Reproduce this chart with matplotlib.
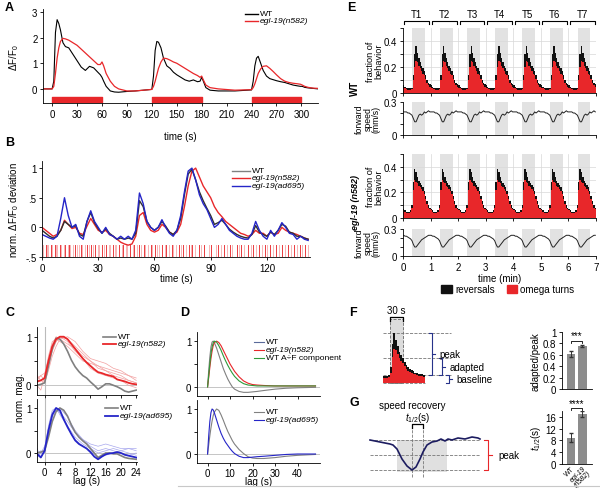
import numpy as np
import matplotlib
matplotlib.use('Agg')
import matplotlib.pyplot as plt
import matplotlib.transforms as mtrans
from matplotlib.lines import Line2D
from matplotlib.patches import Rectangle

plt.rcParams['font.family'] = ['Liberation Sans', 'DejaVu Sans']
plt.rcParams['mathtext.fontset'] = 'custom'
plt.rcParams['mathtext.rm'] = 'Liberation Sans'
plt.rcParams['mathtext.it'] = 'Liberation Sans:italic'
plt.rcParams['font.size'] = 7
plt.rcParams['axes.linewidth'] = 0.6
for k in ['xtick', 'ytick']:
    plt.rcParams[k + '.major.width'] = 0.6
    plt.rcParams[k + '.major.size'] = 2.5
    plt.rcParams[k + '.major.pad'] = 1.5
    plt.rcParams[k + '.labelsize'] = 7

RED = '#e8272a'
BLUE = '#2525c8'
GRAY = '#808080'
NAVY = '#27338a'

# ---------------- data ----------------
# A: calcium response to repeated stimulation
a_time = [-10, 0, 2, 4, 6, 8, 10, 13, 16, 20,
          25, 30, 35, 40, 45, 50, 55, 58, 60, 62,
          65, 70, 75, 80, 90, 100, 110, 120, 122, 124,
          126, 128, 131, 134, 138, 142, 146, 150, 155, 160,
          165, 170, 175, 178, 180, 182, 185, 190, 200, 220,
          240, 242, 244, 246, 248, 251, 254, 258, 262, 266,
          270, 275, 280, 285, 290, 295, 299, 301, 304, 308,
          314, 320]
a_wt = [0, 0, 0.3, 2.2, 2.7, 2.55, 2.3, 1.8, 1.65, 1.6,
        1.35, 1.1, 0.85, 0.72, 0.88, 0.82, 0.65, 0.55, 0.45, 0.3,
        0.1, -0.08, -0.12, -0.13, -0.1, -0.08, -0.05, -0.02, 0.5, 1.5,
        1.85, 1.82, 1.6, 1.2, 0.9, 0.8, 0.65, 0.55, 0.45, 0.35,
        0.3, 0.35, 0.28, 0.3, 0.45, 0.3, 0.05, -0.05, -0.08, -0.08,
        -0.04, 0.3, 0.9, 1.2, 1.27, 1.0, 0.72, 0.5, 0.4, 0.36,
        0.32, 0.28, 0.25, 0.2, 0.15, 0.12, 0.1, 0.1, 0.06, 0.04,
        0.02, 0.0]
a_n582 = [0, 0, 0.1, 0.6, 1.2, 1.6, 1.85, 1.97, 1.95, 1.9,
          1.8, 1.7, 1.55, 1.4, 1.25, 1.1, 0.95, 0.95, 1.05, 0.9,
          0.6, 0.3, 0.1, 0.0, -0.08, -0.08, -0.05, -0.02, 0.1, 0.3,
          0.55, 0.8, 1.05, 1.2, 1.18, 1.12, 1.05, 1.0, 0.9, 0.8,
          0.7, 0.6, 0.52, 0.45, 0.5, 0.35, 0.15, 0.05, 0.0, -0.05,
          -0.03, 0.05, 0.2, 0.4, 0.6, 0.78, 0.88, 0.9, 0.8, 0.68,
          0.55, 0.4, 0.3, 0.25, 0.22, 0.2, 0.18, 0.15, 0.1, 0.06,
          0.03, 0.02]
a_stim_start = [0, 120, 240]
a_stim_len = 60

# B: normalized deviation traces and stimulus raster
b_time = list(range(0, 143, 2))
b_wt = [-0.05, -0.1, -0.15, -0.18, -0.15, -0.05, 0.1, 0.05, 0.0, 0.03,
        -0.12, -0.15, 0.1, 0.25, 0.08, -0.02, -0.1, -0.02, -0.1, -0.15,
        -0.2, -0.18, -0.2, -0.18, -0.2, -0.1, 0.45, 0.35, 0.1, 0.0,
        -0.05, 0.0, 0.1, 0.02, -0.08, -0.12, -0.05, 0.15, 0.55, 0.9,
        0.98, 0.8, 0.6, 0.45, 0.32, 0.2, 0.05, 0.08, 0.12, 0.05,
        -0.03, -0.08, -0.12, -0.15, -0.17, -0.18, -0.12, 0.03, -0.08, -0.12,
        -0.15, -0.08, -0.12, -0.05, 0.05, 0.02, -0.08, -0.1, -0.15, -0.15,
        -0.18, -0.2]
b_n582 = [0.0, -0.05, -0.1, -0.15, -0.12, -0.05, 0.12, 0.05, -0.02, 0.0,
          -0.1, -0.12, 0.02, 0.15, 0.05, -0.05, -0.08, -0.05, -0.12, -0.15,
          -0.2, -0.25, -0.28, -0.3, -0.28, -0.15, 0.2, 0.25, 0.05, -0.05,
          -0.08, -0.05, 0.05, 0.0, -0.08, -0.12, -0.08, 0.05, 0.35, 0.7,
          0.95, 1.0, 0.85, 0.7, 0.6, 0.5, 0.35, 0.25, 0.18, 0.1,
          0.05, 0.0, -0.05, -0.1, -0.12, -0.15, -0.12, -0.05, -0.1, -0.1,
          -0.15, -0.08, -0.12, -0.1, 0.0, -0.05, -0.08, -0.1, -0.12, -0.15,
          -0.18, -0.2]
b_ad695 = [-0.12, -0.15, -0.18, -0.2, -0.15, 0.15, 0.5, 0.2, 0.0, 0.05,
           -0.15, -0.2, 0.1, 0.28, 0.1, 0.0, -0.1, 0.0, -0.12, -0.15,
           -0.2, -0.15, -0.2, -0.15, -0.2, -0.05, 0.58, 0.4, 0.1, 0.0,
           -0.05, 0.0, 0.13, 0.0, -0.1, -0.15, -0.05, 0.2, 0.6, 0.95,
           1.0, 0.8, 0.55, 0.4, 0.3, 0.15, 0.0, 0.05, 0.15, 0.05,
           -0.05, -0.1, -0.15, -0.18, -0.2, -0.2, -0.1, 0.1, -0.05, -0.15,
           -0.2, -0.05, -0.15, -0.05, 0.08, 0.0, -0.1, -0.12, -0.2, -0.15,
           -0.2, -0.22]
b_spikes_strong = [1.9, 4.9, 6.8, 9.6, 12.1, 14.3, 17.8, 20.6, 24.1, 26.3,
                   28.4, 31.9, 34.0, 37.7, 41.0, 43.3, 47.1, 49.0, 51.5, 54.2,
                   57.9, 60.3, 64.0, 66.2, 69.1, 72.9, 75.1, 78.2, 80.3, 83.6,
                   86.7, 90.4, 94.1, 97.0, 100.2, 103.8, 106.4, 109.7, 112.6, 115.9,
                   118.8, 121.6, 125.0, 128.1, 131.2, 134.5, 137.4, 140.5]
b_spikes_weak = [0.8, 2.6, 3.4, 5.5, 7.3, 8.1, 10.2, 11.5, 13.7, 15.0,
                 16.4, 18.5, 19.9, 21.3, 22.8, 24.9, 27.0, 29.8, 30.5, 33.2,
                 35.6, 36.3, 38.9, 39.6, 42.5, 44.8, 45.6, 48.4, 50.7, 52.9,
                 55.0, 56.6, 58.8, 61.6, 62.4, 65.5, 67.8, 70.0, 71.4, 74.3,
                 76.8, 79.5, 81.9, 85.0, 88.9, 92.8, 95.7, 98.6, 101.5, 105.1,
                 108.0, 111.3, 114.0, 117.2, 120.3, 123.4, 126.7, 129.5, 132.8, 135.9,
                 138.8, 141.9]

# C: cross-correlation magnitude vs lag
c_lag = list(range(-2, 25))
c_wt_top = [0.0, 0.02, 0.05, 0.4, 0.75, 0.97, 0.95, 0.85, 0.7, 0.52,
            0.38, 0.28, 0.2, 0.15, 0.07, 0.0, -0.08, -0.03, 0.03, 0.03,
            0.0, -0.03, -0.07, -0.12, -0.14, -0.12, -0.1]
c_n582 = [0.08, 0.1, 0.15, 0.5, 0.8, 0.95, 1.0, 1.0, 0.95, 0.85,
          0.75, 0.65, 0.55, 0.47, 0.4, 0.33, 0.27, 0.25, 0.22, 0.2,
          0.18, 0.12, 0.1, 0.08, 0.05, 0.03, 0.02]
c_wt_bot = [0.0, 0.02, 0.05, 0.35, 0.7, 0.92, 1.0, 0.95, 0.82, 0.62,
            0.46, 0.35, 0.27, 0.2, 0.1, 0.0, -0.1, -0.05, 0.0, 0.0,
            -0.02, -0.02, -0.06, -0.1, -0.12, -0.13, -0.14]
c_ad695 = [-0.02, -0.1, 0.05, 0.5, 0.85, 1.0, 0.95, 0.75, 0.58, 0.42,
           0.28, 0.2, 0.15, 0.1, 0.02, -0.08, -0.14, -0.08, -0.03, -0.01,
           0.0, 0.02, 0.0, -0.04, -0.06, -0.08, -0.1]
c_lag_ind = [-2, -1, 0, 1, 2, 3, 4, 6, 8, 10, 12, 14, 16, 18, 20, 22, 24]
c_n582_ind = [
    [0.05, 0.1, 0.15, 0.55, 0.85, 1.0, 0.95, 0.85, 0.75, 0.6, 0.5, 0.4, 0.35, 0.3, 0.25, 0.2, 0.15],
    [0.15, 0.2, 0.1, 0.4, 0.7, 0.9, 1.0, 0.95, 0.8, 0.65, 0.5, 0.35, 0.3, 0.25, 0.2, 0.1, 0.05],
    [0.0, -0.1, 0.2, 0.6, 0.9, 0.95, 0.9, 0.8, 0.65, 0.5, 0.45, 0.4, 0.3, 0.2, 0.15, 0.1, 0.05],
    [0.2, 0.1, 0.05, 0.3, 0.6, 0.8, 0.95, 1.0, 0.9, 0.7, 0.55, 0.5, 0.45, 0.35, 0.3, 0.2, 0.1],
    [0.1, 0.2, 0.25, 0.5, 0.75, 0.9, 1.0, 0.9, 0.7, 0.55, 0.35, 0.25, 0.2, 0.15, 0.1, 0.0, -0.05],
]
c_ad695_ind = [
    [-0.05, 0.0, 0.1, 0.6, 0.95, 1.0, 0.85, 0.6, 0.35, 0.2, 0.1, 0.0, 0.05, 0.1, 0.05, 0.1, 0.1],
    [0.1, -0.1, 0.05, 0.4, 0.8, 0.95, 1.0, 0.8, 0.5, 0.3, 0.15, 0.05, 0.1, 0.05, 0.0, -0.05, 0.0],
    [0.0, 0.05, 0.0, 0.55, 0.9, 1.0, 0.9, 0.55, 0.3, 0.15, 0.05, -0.1, -0.05, 0.0, 0.05, 0.0, -0.05],
    [-0.1, 0.0, 0.15, 0.45, 0.85, 0.95, 0.9, 0.7, 0.45, 0.3, 0.2, 0.15, 0.2, 0.15, 0.1, 0.1, 0.05],
]

# D: fitted kernels
d_lag = [0, 0.5, 1, 1.5, 2, 2.5, 3, 4, 5, 6, 7, 8, 9, 10, 11, 12, 14, 16, 18, 20, 22, 25, 30, 35, 40, 48]
d_wt_top = [0, 0.35, 0.65, 0.87, 0.98, 1.0, 0.97, 0.85, 0.70, 0.55, 0.40, 0.28, 0.17, 0.08, 0.0, -0.05,
            -0.10, -0.12, -0.12, -0.11, -0.10, -0.08, -0.05, -0.03, -0.02, -0.01]
d_n582 = [0, 0.2, 0.42, 0.62, 0.78, 0.9, 0.97, 1.0, 0.97, 0.9, 0.8, 0.7, 0.6, 0.5, 0.42, 0.34,
          0.22, 0.13, 0.08, 0.05, 0.04, 0.03, 0.02, 0.02, 0.02, 0.02]
d_af = [0, 0.25, 0.5, 0.72, 0.87, 0.96, 1.0, 0.98, 0.9, 0.8, 0.68, 0.57, 0.47, 0.38, 0.3, 0.23,
        0.13, 0.07, 0.04, 0.03, 0.02, 0.02, 0.02, 0.02, 0.02, 0.02]
d_wt_bot = [0, 0.2, 0.4, 0.58, 0.73, 0.85, 0.93, 1.0, 0.97, 0.87, 0.75, 0.62, 0.5, 0.4, 0.3, 0.22,
            0.1, 0.01, -0.06, -0.09, -0.1, -0.1, -0.08, -0.05, -0.03, -0.01]
d_ad695 = [0, 0.4, 0.72, 0.92, 1.0, 0.98, 0.92, 0.76, 0.6, 0.46, 0.35, 0.26, 0.19, 0.12, 0.06, 0.01,
           -0.05, -0.08, -0.08, -0.07, -0.06, -0.05, -0.03, -0.01, 0, 0]

# E: behavior over seven one-minute trials (one-trial profile, 3 s bins)
e_trials = ['T1', 'T2', 'T3', 'T4', 'T5', 'T6', 'T7']
e_stim = (0.33, 0.8)
e_wt_total = [0.06, 0.05, 0.04, 0.035, 0.035, 0.035, 0.04, 0.14, 0.30, 0.36,
              0.31, 0.27, 0.24, 0.21, 0.19, 0.17, 0.14, 0.10, 0.08, 0.07]
e_wt_omega = [0.04, 0.035, 0.03, 0.025, 0.025, 0.025, 0.03, 0.10, 0.20, 0.25,
              0.24, 0.21, 0.19, 0.17, 0.15, 0.14, 0.11, 0.08, 0.06, 0.05]
e_mut_total = [0.07, 0.06, 0.05, 0.05, 0.05, 0.06, 0.10, 0.28, 0.38, 0.36,
               0.32, 0.29, 0.27, 0.26, 0.24, 0.21, 0.17, 0.13, 0.10, 0.08]
e_mut_omega = [0.06, 0.05, 0.04, 0.04, 0.04, 0.05, 0.08, 0.22, 0.30, 0.28,
               0.27, 0.25, 0.24, 0.23, 0.21, 0.19, 0.15, 0.11, 0.08, 0.07]
e_wt_speed = [0.21, 0.21, 0.21, 0.20, 0.20, 0.19, 0.18, 0.15, 0.12, 0.12,
              0.15, 0.18, 0.19, 0.18, 0.19, 0.21, 0.20, 0.21, 0.22, 0.21]
e_mut_speed = [0.23, 0.22, 0.22, 0.21, 0.20, 0.19, 0.17, 0.13, 0.10, 0.10,
               0.12, 0.14, 0.16, 0.18, 0.19, 0.20, 0.21, 0.22, 0.23, 0.23]

# F schematic (4 s bins) and summary
f_bin_t = list(range(-16, 80, 4))
f_total = [0.05, 0.055, 0.05, 0.06, 0.12, 0.30, 0.38, 0.33, 0.28, 0.24, 0.21, 0.19,
           0.16, 0.14, 0.12, 0.11, 0.10, 0.09, 0.08, 0.075, 0.07, 0.065, 0.065, 0.06]
f_omega = [0.035, 0.04, 0.035, 0.045, 0.08, 0.2, 0.26, 0.25, 0.22, 0.19, 0.17, 0.15,
           0.13, 0.11, 0.095, 0.085, 0.08, 0.07, 0.065, 0.06, 0.055, 0.05, 0.05, 0.045]
f_levels = {'peak': 0.38, 'adapted': 0.19, 'baseline': 0.06}
f_groups = ['WT', 'egl-19\n(n582)']
f_ratio = [0.62, 0.75]
f_ratio_err = [0.05, 0.02]

# G schematic and summary
g_t = [-42, -32, -22, -19, -15, -10, -5, 0, 4, 8, 11, 15, 20, 25, 29, 33, 36, 40, 46, 53, 60, 66, 68]
g_speed = [0.22, 0.212, 0.204, 0.2, 0.184, 0.144, 0.116, 0.1, 0.112, 0.144, 0.172, 0.2, 0.212,
           0.216, 0.224, 0.216, 0.224, 0.22, 0.228, 0.224, 0.232, 0.228, 0.224]
g_thalf = [9.0, 17.0]
g_thalf_err = [1.6, 1.0]

# ---------------- figure ----------------
W, H = 600, 489
fig = plt.figure(figsize=(6, 4.89), dpi=100)


def px_axes(l, t, r, b):
    return fig.add_axes([l / W, 1 - b / H, (r - l) / W, (b - t) / H])


def ftext(x, y, s, **kw):
    kw.setdefault('fontsize', 7)
    return fig.text(x / W, 1 - y / H, s, **kw)


def leg_line(x0, x1, y, color, label, lw=1.0, **kw):
    fig.add_artist(Line2D([x0 / W, x1 / W], [1 - y / H] * 2, color=color, lw=lw))
    kw.setdefault('fontsize', 6.1)
    ftext(x1 + 2, y, label, va='center', **kw)


def clean(ax):
    ax.spines['top'].set_visible(False)
    ax.spines['right'].set_visible(False)


for lab, x, y in [('A', 5, 8), ('B', 5, 143), ('C', 5, 313), ('D', 180, 313),
                  ('E', 347, 8), ('F', 349, 313), ('G', 349, 403)]:
    ftext(x, y, lab, fontsize=9, fontweight='bold', va='center')

# ---- A
axA = px_axes(43, 10.4, 318, 104)
clean(axA)
axA.plot(a_time, a_wt, color='black', lw=0.8)
axA.plot(a_time, a_n582, color=RED, lw=0.9)
axA.broken_barh([(s, a_stim_len) for s in a_stim_start], (-0.5, 0.19), color=RED)
axA.set_xlim(-11, 320)
axA.set_ylim(-0.55, 3.1)
axA.set_xticks(range(0, 301, 30))
axA.set_yticks([0, 1, 2, 3])
axA.set_xlabel('time (s)', labelpad=9)
axA.set_ylabel('ΔF/F$_0$', labelpad=8)
leg_line(245, 258, 14.5, 'black', 'WT')
leg_line(245, 258, 21.5, RED, 'egl-19(n582)', fontstyle='italic')

# ---- B
axB = px_axes(42, 162, 310, 258)
clean(axB)
for s in b_spikes_weak:
    axB.plot([s, s], [-0.5, -0.3], color=RED, alpha=0.35, lw=0.7)
for s in b_spikes_strong:
    axB.plot([s, s], [-0.5, -0.3], color=RED, alpha=0.9, lw=0.7)
axB.plot(b_time, b_n582, color=RED, lw=1.0)
axB.plot(b_time, b_wt, color='#303030', lw=1.0)
axB.plot(b_time, b_ad695, color=BLUE, lw=1.0)
axB.set_xlim(0, 143)
axB.set_ylim(-0.5, 1.12)
axB.set_xticks([0, 30, 60, 90, 120])
axB.set_yticks([-0.5, 0, 0.5, 1])
axB.set_yticklabels(['-.5', '0', '.5', '1'])
axB.set_xlabel('time (s)', labelpad=0)
axB.set_ylabel('norm. ΔF/F$_0$ deviation', labelpad=3)
leg_line(232, 250, 171.5, GRAY, 'WT')
leg_line(232, 250, 179, RED, 'egl-19(n582)', fontstyle='italic')
leg_line(232, 250, 186.5, BLUE, 'egl-19(ad695)', fontstyle='italic')

# ---- C
axC1 = px_axes(37, 328, 137, 396)
axC2 = px_axes(37, 400, 137, 463)
for ax, main, ind, col, light, wt in [(axC1, c_n582, c_n582_ind, RED, '#f2a0a0', c_wt_top),
                                      (axC2, c_ad695, c_ad695_ind, BLUE, '#a8a8ee', c_wt_bot)]:
    clean(ax)
    ax.axhline(0, color='#bbbbbb', lw=0.6)
    ax.axvline(0, color='#bbbbbb', lw=0.8)
    for tr in ind:
        ax.plot(c_lag_ind, tr, color=light, lw=0.5)
    ax.plot(c_lag, wt, color=GRAY, lw=1.2)
    ax.plot(c_lag, main, color=col, lw=1.3)
    ax.set_xlim(-2, 24.2)
    ax.set_ylim(-0.2, 1.2)
    ax.set_xticks(range(0, 25, 4))
    ax.set_yticks([0, 0.5, 1])
    ax.set_yticklabels(['0', '', '1'])
axC1.set_xticklabels([])
axC2.tick_params(axis='x', pad=1)
axC2.set_xlabel('lag (s)', labelpad=-1)
ftext(20, 397, 'norm. mag.', rotation=90, ha='center', va='center')
leg_line(103, 116, 337.5, GRAY, 'WT', lw=1.2)
leg_line(103, 116, 345, RED, 'egl-19(n582)', lw=1.3, fontstyle='italic')
leg_line(105, 118, 409, GRAY, 'WT', lw=1.2)
leg_line(105, 118, 416.5, BLUE, 'egl-19(ad695)', lw=1.3, fontstyle='italic')

# ---- D
axD1 = px_axes(197, 333, 320, 397)
axD2 = px_axes(197, 401, 320, 464)
for ax in (axD1, axD2):
    clean(ax)
    ax.axhline(0, color='#bbbbbb', lw=0.6)
    ax.set_xlim(-4.7, 50)
    ax.set_ylim(-0.2, 1.2)
    ax.set_xticks([0, 10, 20, 30, 40])
    ax.set_yticks([0, 0.5, 1])
    ax.set_yticklabels(['0', '', '1'])
axD1.plot(d_lag, d_wt_top, color=GRAY, lw=0.8)
axD1.plot(d_lag, d_n582, color=RED, lw=0.8)
axD1.plot(d_lag, d_af, color='#2e9a3a', lw=0.8)
axD2.plot(d_lag, d_wt_bot, color=GRAY, lw=0.8)
axD2.plot(d_lag, d_ad695, color=BLUE, lw=0.8)
axD1.set_xticklabels([])
axD2.tick_params(axis='x', pad=1)
axD2.set_xlabel('lag (s)', labelpad=-1)
leg_line(254, 264, 343, '#5a6a9a', 'WT', lw=0.8)
leg_line(254, 264, 351, RED, 'egl-19(n582)', lw=0.8, fontstyle='italic')
leg_line(254, 264, 359, '#2e9a3a', 'WT A÷F component', lw=0.8)
leg_line(254, 264, 413, GRAY, 'WT', lw=0.8)
leg_line(254, 264, 421, BLUE, 'egl-19(ad695)', lw=0.8, fontstyle='italic')

# ---- E
n_tr = len(e_trials)
e_t = np.arange(n_tr * len(e_wt_total)) * 0.05
e_t_step = np.append(e_t, n_tr)


def frac_axes(ax, total, omega):
    clean(ax)
    for i in range(n_tr):
        ax.axvspan(i + e_stim[0], i + e_stim[1], color='#e2e2e2', lw=0, zorder=0)
    for i in range(1, n_tr):
        ax.axvline(i, color='#d8d8d8', lw=0.5, zorder=0.5)
    for yv in [0.1, 0.2, 0.3, 0.4]:
        ax.axhline(yv, color='#d8d8d8', lw=0.5, zorder=0.5)
    tot = np.tile(total, n_tr)
    om = np.tile(omega, n_tr)
    ax.fill_between(e_t_step, 0, np.append(tot, tot[-1]), step='post', color='#111111', lw=0)
    ax.fill_between(e_t_step, 0, np.append(om, om[-1]), step='post', color=RED, lw=0)
    ax.set_xlim(0, n_tr)
    ax.set_ylim(0, 0.5)
    ax.set_yticks([0, 0.1, 0.2, 0.3, 0.4, 0.5])
    ax.set_yticklabels(['0', '', '0.2', '', '0.4', ''])
    ax.set_xticks(range(n_tr + 1))
    ax.set_xticklabels([])
    ax.set_ylabel('fraction of\nbehavior', fontsize=6.6, linespacing=0.9)
    ax.yaxis.set_label_coords(-0.1, 0.5)


def speed_axes(ax, speed):
    clean(ax)
    for i in range(n_tr):
        ax.axvspan(i + e_stim[0], i + e_stim[1], color='#e2e2e2', lw=0, zorder=0)
    ax.plot(e_t + 0.025, np.tile(speed, n_tr), color='#222222', lw=0.7)
    ax.set_xlim(0, n_tr)
    ax.set_ylim(0, 0.3)
    ax.set_yticks([0, 0.1, 0.2, 0.3])
    ax.set_yticklabels(['0', '', '', '0.3'])
    ax.set_xticks(range(n_tr + 1))
    ax.set_ylabel('forward\nspeed\n(mm/s)', fontsize=6.3, linespacing=0.9)
    ax.yaxis.set_label_coords(-0.115, 0.5)


axE1 = px_axes(403, 29, 596, 94)
axE2 = px_axes(403, 103, 596, 136)
axE3 = px_axes(403, 155, 596, 219)
axE4 = px_axes(403, 230, 596, 257)
frac_axes(axE1, e_wt_total, e_wt_omega)
frac_axes(axE3, e_mut_total, e_mut_omega)
speed_axes(axE2, e_wt_speed)
speed_axes(axE4, e_mut_speed)
axE2.set_xticklabels([])
axE4.set_xlabel('time (min)', labelpad=1)

trans = mtrans.blended_transform_factory(axE1.transData, axE1.transAxes)
for i, lab in enumerate(e_trials):
    axE1.plot([i + 0.05, i + 0.05, i + 0.95, i + 0.95], [1.06, 1.108, 1.108, 1.06],
              transform=trans, color='black', lw=0.8, clip_on=False)
    axE1.text(i + 0.5, 1.215, lab, transform=trans, ha='center', va='center', fontsize=7)

ftext(355, 88, 'WT', rotation=90, ha='center', va='center', fontweight='bold')
ftext(355, 203, 'egl-19 (n582)', rotation=90, ha='center', va='center',
      fontweight='bold', fontstyle='italic', fontsize=6.5)

fig.add_artist(Rectangle((441 / W, 1 - 294 / H), 11 / W, 8 / H, color='#111111'))
ftext(455, 290, 'reversals', va='center')
fig.add_artist(Rectangle((507 / W, 1 - 294 / H), 10 / W, 8 / H, color=RED))
ftext(520, 290, 'omega turns', va='center')

# ---- F schematic
axFs = px_axes(375, 305, 520, 392)
axFs.set_axis_off()
axFs.set_xlim(-34.6, 300)
axFs.set_ylim(-0.061, 0.603)
axFs.add_patch(Rectangle((0, 0), 30, 0.49, facecolor='#dcdcdc', edgecolor='#666666',
                         ls='--', lw=0.6, zorder=0))
fb = np.append(f_bin_t, f_bin_t[-1] + 4)
axFs.fill_between(fb, 0, np.append(f_total, f_total[-1]), step='post', color='#111111', lw=0)
axFs.fill_between(fb, 0, np.append(f_omega, f_omega[-1]), step='post', color=RED, lw=0)
for key in ['peak', 'adapted', 'baseline']:
    axFs.plot([-16, 140], [f_levels[key]] * 2, color='#777777', ls='--', lw=0.6, zorder=0.5)
axFs.plot([-16, 80], [0, 0], color='#777777', ls='--', lw=0.6, zorder=0.5)
axFs.plot([0, 0, 30, 30], [0.47, 0.5, 0.5, 0.47], color='black', lw=0.9)
axFs.text(15, 0.56, '30 s', ha='center', va='center', fontsize=7)


def bracket(ax, x, y0, y1, color, label, tx, d=7):
    ym = (y0 + y1) / 2
    ax.plot([x - d, x, x, x - d], [y0, y0, y1, y1], color=color, lw=0.8, clip_on=False)
    ax.plot([x, x + d], [ym, ym], color=color, lw=0.8, clip_on=False)
    ax.text(tx, ym, label, va='center', ha='left', fontsize=7)


bracket(axFs, 97, f_levels['baseline'], f_levels['peak'], NAVY, 'peak', 114)
bracket(axFs, 120, f_levels['baseline'], f_levels['adapted'], NAVY, 'adapted', 137)
bracket(axFs, 137, 0, f_levels['baseline'], NAVY, 'baseline', 154)

# ---- F summary
axFb = px_axes(562, 333, 592, 390)
clean(axFb)
axFb.bar([0, 1], f_ratio, width=0.75, color='#8c8c8c')
axFb.errorbar([0, 1], f_ratio, yerr=f_ratio_err, fmt='none', ecolor='#333333', elinewidth=0.7, capsize=1.2)
axFb.set_xlim(-0.78, 1.83)
axFb.set_ylim(0, 1)
axFb.set_yticks([0, 0.2, 0.4, 0.6, 0.8, 1])
axFb.set_yticklabels(['0', '0.2', '0.4', '0.6', '0.8', '1'])
axFb.set_xticks([])
axFb.set_ylabel('adapted/peak', labelpad=2)
axFb.plot([0, 0, 1, 1], [0.81, 0.84, 0.84, 0.81], color='black', lw=0.6)
axFb.text(0.5, 0.86, '***', ha='center', va='bottom', fontsize=7)

# ---- G schematic
axGs = px_axes(365, 400, 525, 485)
axGs.set_axis_off()
axGs.set_xlim(-47, 113)
axGs.set_ylim(0.044, 0.384)
axGs.add_patch(Rectangle((-15, 0.092), 50, 0.128, facecolor='#e0e0e0', lw=0, zorder=0))
for yv in [0.22, 0.16, 0.1]:
    axGs.plot([-42, 68], [yv, yv], color='#777777', ls='--', lw=0.6, zorder=0.5)
for xv in [0, 11]:
    axGs.plot([xv, xv], [0.072, 0.284], color='#777777', ls='--', lw=0.6, zorder=0.5)
axGs.plot(g_t, g_speed, color='#1c1c60', lw=1.2)
axGs.plot([0, 0, 11, 11], [0.268, 0.284, 0.284, 0.268], color='black', lw=0.9)
axGs.text(5.5, 0.31, '$t_{1/2}$(s)', ha='center', va='center', fontsize=7)
axGs.text(0, 0.36, 'speed recovery', ha='center', va='center', fontsize=7)
bracket(axGs, 76, 0.1, 0.22, RED, 'peak', 86, d=4)

# ---- G summary
axGb = px_axes(562, 412, 592, 465)
clean(axGb)
axGb.bar([0, 1], g_thalf, width=0.75, color='#8c8c8c')
axGb.errorbar([0, 1], g_thalf, yerr=g_thalf_err, fmt='none', ecolor='#333333', elinewidth=0.7, capsize=1.2)
axGb.set_xlim(-0.78, 1.83)
axGb.set_ylim(0, 18)
axGb.set_yticks([0, 4, 8, 12, 16])
axGb.set_xticks([0, 1])
axGb.tick_params(axis='x', length=0, pad=0.5)
axGb.set_xticklabels(f_groups, rotation=45, ha='right', rotation_mode='anchor', fontsize=5,
                     linespacing=0.85)
axGb.get_xticklabels()[1].set_fontstyle('italic')
axGb.set_ylabel('$t_{1/2}$(s)', labelpad=2)
axGb.plot([0, 0, 1, 1], [18.3, 19, 19, 18.3], color='black', lw=0.6, clip_on=False)
axGb.text(0.5, 19.1, '****', ha='center', va='bottom', fontsize=7, clip_on=False)

fig.add_artist(Line2D([178 / W, 1], [1 - 487 / H] * 2, color='#c8c8c8', lw=0.8))

fig.savefig('out.png', dpi=100)
